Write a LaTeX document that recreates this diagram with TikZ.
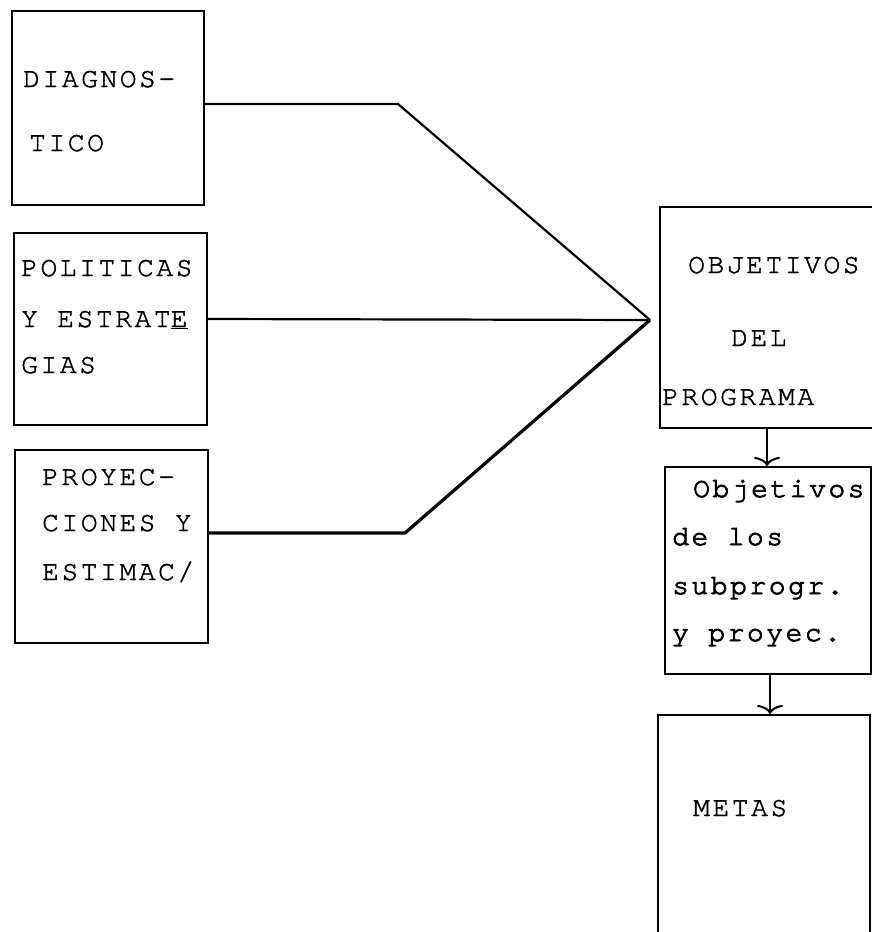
\documentclass[tikz,border=0pt]{standalone}
\usepackage{fontspec}
\usetikzlibrary{arrows.meta}
\newfontfamily\tw[LetterSpace=9,FakeBold=1.6]{texgyrecursor-regular.otf}
\newfontfamily\twb[LetterSpace=9,FakeBold=3]{texgyrecursor-regular.otf}
\begin{document}
\begin{tikzpicture}[x=1pt,y=-1pt,
  box/.style={draw,line width=2.2pt,inner sep=0pt},
  lab/.style={anchor=base west,inner sep=0pt,font=\tw\fontsize{28}{28}\selectfont},
  labb/.style={anchor=base west,inner sep=0pt,font=\twb\fontsize{28}{28}\selectfont},
  conn/.style={line width=2.2pt,line join=miter},
  arr/.style={line width=2pt,-{To[length=9pt,width=26pt]}}]
\useasboundingbox (0,0) rectangle (872,932);
\begin{scope}
\clip (0,0) rectangle (872,932);
% boxes
\node[box,minimum width=192pt,minimum height=194pt] (diag) at (108,108) {};
\node[box,minimum width=193pt,minimum height=192pt] (pol) at (110.5,329) {};
\node[box,minimum width=193pt,minimum height=193pt] (proy) at (111.5,546.5) {};
\node[box,minimum width=230pt,minimum height=221pt] (obj) at (775,317.5) {};
\node[box,minimum width=206pt,minimum height=207pt] (sub) at (768,570.5) {};
\node[box,minimum width=212pt,minimum height=240pt] (met) at (764,835) {};
% texts
\node[lab] (t1) at (23,87) {DIAGNOS-};
\node[lab] (t2) at (29,151) {TICO};
\node[lab] (t3) at (21,276) {POLITICAS};
\node[lab] (t4) at (21,327) {Y ESTRAT\underline{E}};
\node[lab] (t5) at (21,373) {GIAS};
\node[lab] (t6) at (42,485) {PROYEC-};
\node[lab] (t7) at (42,531) {CIONES Y};
\node[lab] (t8) at (42,580) {ESTIMAC/};
\node[lab] (t9) at (688,273) {OBJETIVOS};
\node[lab] (t10) at (731,346) {DEL};
\node[lab] (t11) at (662,405) {PROGRAMA};
\node[labb] (t12) at (693,497) {Objetivos};
\node[labb] (t13) at (672,545) {de los};
\node[labb] (t14) at (672,594) {subprogr.};
\node[labb] (t15) at (672,641) {y proyec.};
\node[lab] (t16) at (693,816) {METAS};
% connectors
\coordinate (m) at (650,320);
\coordinate (k1) at (398,104);
\coordinate (k3) at (405,533);
\draw[conn] (diag.east |- 0,104) -- (k1) -- (m);
\draw[conn] (pol.east |- 0,319) -- (m);
\draw[conn,line width=3.2pt] (proy.east |- 0,533) -- (k3) -- (m);
\draw[arr] (obj.south -| 767,0) -- (sub.north -| 767,0);
\draw[arr] (sub.south -| 770,0) -- (met.north -| 770,0);
\end{scope}
\end{tikzpicture}
\end{document}
